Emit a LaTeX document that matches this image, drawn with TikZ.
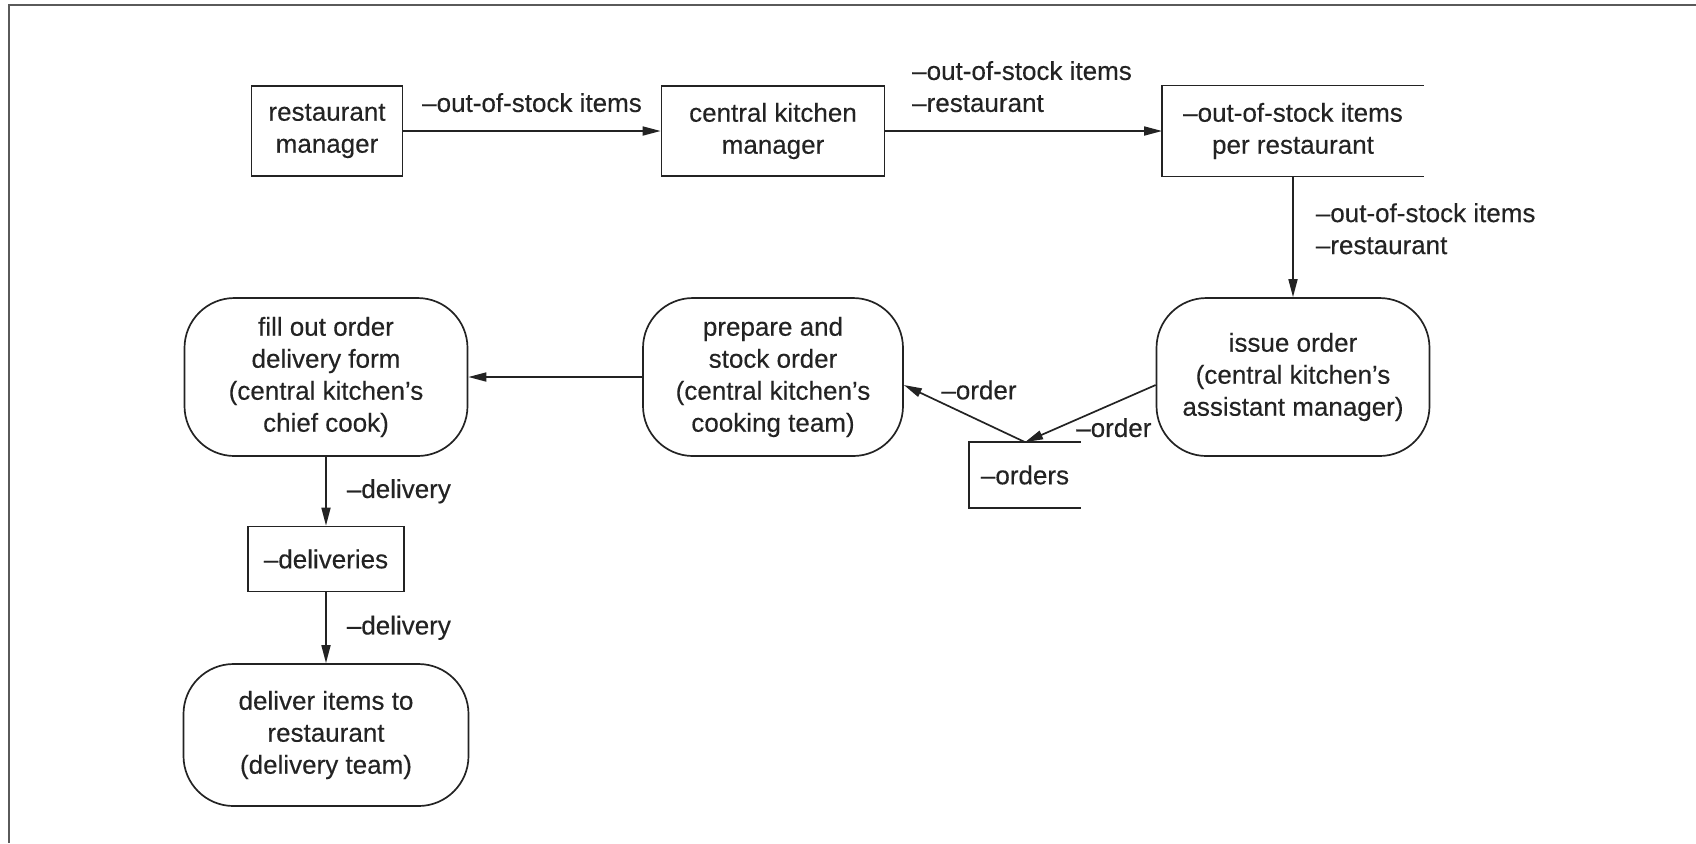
\documentclass[tikz,border=0pt]{standalone}
\usepackage{fontspec}
\setmainfont{Liberation Sans}[FakeBold=0.3]
\usetikzlibrary{positioning, arrows.meta}
\definecolor{linecol}{RGB}{35,35,35}
\definecolor{framecol}{RGB}{90,90,90}

\begin{document}
\begin{tikzpicture}[
	x=0.5pt, y=-0.5pt,
	on grid,
	font=\fontsize{13}{16}\selectfont,
	text=linecol,
	actor/.style={
		draw=linecol,
		rectangle,
		line width=0.85pt,
		align=center,
		minimum height=45pt,
		inner sep=2pt
	},
	process/.style={
		draw=linecol,
		rectangle,
		rounded corners=25pt,
		line width=0.85pt,
		align=center,
		minimum width=136.5pt,
		minimum height=79pt,
		inner sep=2pt
	},
	store/.style={
		rectangle,
		align=center,
		inner sep=2pt
	},
	flow/.style={
		draw=linecol,
		line width=0.85pt,
		-{Triangle[length=9pt,width=4.5pt]}
	},
	lbl/.style={
		align=left,
		inner sep=3pt
	}
	]
	\useasboundingbox (0,0) rectangle (1696,843);
	% Frame
	\draw[framecol, line width=1.1pt] (1696,5) -- (9,5) -- (9,843);
	
	% Top row
	\node[actor, minimum width=75.5pt] (rm) at (327,131) {restaurant\\manager};
	\node[actor, minimum width=111.5pt] (ckm) [right=223pt of rm] {central kitchen\\manager};
	\node[store, minimum width=130.5pt, minimum height=45pt] (stock) [right=260pt of ckm] {–out-of-stock items\\per restaurant};
	
	% Middle row
	\node[process] (issue) [below=123pt of stock] {issue order\\(central kitchen's\\assistant manager)};
	\node[process, minimum width=130pt] (prep) [left=260pt of issue] {prepare and\\stock order\\(central kitchen's\\cooking team)};
	\node[process, minimum width=141.5pt] (fill) [left=223.5pt of prep] {fill out order\\delivery form\\(central kitchen's\\chief cook)};
	\node[store, minimum width=55.5pt, minimum height=32.5pt] (orders) [below left=49pt and 134pt of issue] {–orders};
	
	% Delivery column
	\node[actor, minimum width=78pt, minimum height=32.5pt] (deliveries) [below=91pt of fill] {–deliveries};
	\node[process, minimum width=142.5pt, minimum height=71pt] (deliver) [below=88pt of deliveries] {deliver items to\\restaurant\\(delivery team)};
	
	% Stores, open on the right
	\draw[linecol, line width=0.85pt] (stock.north east) -- (stock.north west) -- (stock.south west) -- (stock.south east);
	\draw[linecol, line width=0.85pt] (orders.north east) -- (orders.north west) -- (orders.south west) -- (orders.south east);
	
	% Flows
	\draw[flow] (rm) -- node[lbl, above=6pt] {–out-of-stock items} (ckm);
	\draw[flow] (ckm) -- node[lbl, pos=0, above right=6pt and 10pt] {–out-of-stock items\\–restaurant} (stock);
	\draw[flow] (stock) -- node[lbl, right=8pt, yshift=4pt] {–out-of-stock items\\–restaurant} (issue);
	\draw[flow] ([yshift=-4pt]issue.west) -- node[lbl, pos=0.32, below=4pt] {–order} (orders.north);
	\draw[flow] (orders.north) -- node[lbl, pos=0.38, above=7pt] {–order} ([yshift=-4pt]prep.east);
	\draw[flow] (prep) -- (fill);
	\draw[flow] (fill) -- node[lbl, right=7pt] {–delivery} (deliveries);
	\draw[flow] (deliveries) -- node[lbl, right=7pt] {–delivery} (deliver);
\end{tikzpicture}
\end{document}
